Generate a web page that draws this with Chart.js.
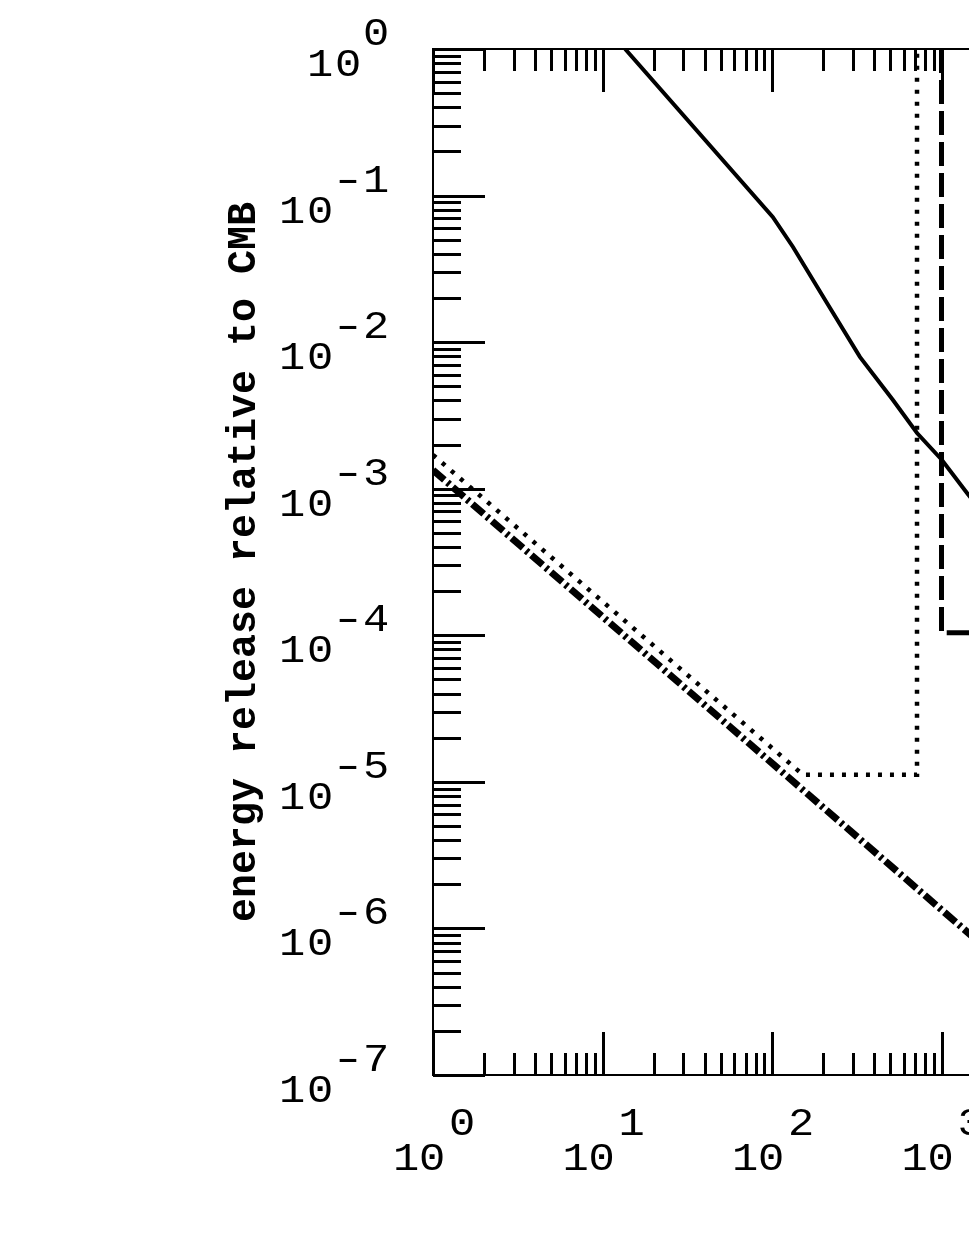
<!DOCTYPE html>
<html>
<head>
<meta charset="utf-8">
<script src="https://cdn.jsdelivr.net/npm/chart.js"></script>
<style>
  html, body { margin: 0; padding: 0; background: #fff; overflow: hidden; }
  #wrap { position: absolute; left: 0; top: 0; width: 1300px; height: 1254px; }
</style>
</head>
<body>
<div id="wrap"><canvas id="chartCanvas" width="1300" height="1254"></canvas></div>
<script>
// values (log-log)
const solidX = [13.6, 101, 133, 211, 330, 517, 717, 1006, 1414, 2000];
const solidY = [1.0, 0.0715, 0.0446, 0.0185, 0.00793, 0.00403, 0.0024, 0.00157, 0.000936, 0.00056];

const dashedX = [1000, 1000, 100000];
const dashedY = [1.0, 1.04e-4, 1.04e-4];

const dottedX = [1, 152, 717, 717];
const dottedY = [1.70e-3, 1.12e-5, 1.12e-5, 1.0];

const dashDotX = [1, 3000];
const dashDotY = [1.34e-3, 4.47e-7];

const xExponents = [0, 1, 2, 3, 4, 5];
const yExponents = [0, -1, -2, -3, -4, -5, -6, -7];
const yTitle = 'energy release relative to CMB';

function pts(xs, ys) {
    return xs.map((x, i) => ({ x: x, y: ys[i] }));
}

// stretched mono glyphs, the original font is wider than Liberation Mono
function glyph(ctx, ch, cx, base, sx) {
    ctx.save();
    ctx.translate(cx, base);
    ctx.scale(sx, 1);
    ctx.fillText(ch, 0, 0);
    ctx.restore();
}

const framePlugin = {
    id: 'frame',
    afterDraw(chart) {
        const ctx = chart.ctx;
        const a = chart.chartArea;
        const xs = chart.scales.x;
        const ys = chart.scales.y;
        ctx.save();
        ctx.strokeStyle = '#000';
        ctx.fillStyle = '#000';
        ctx.lineWidth = 2;
        ctx.strokeRect(a.left, a.top, a.right - a.left, a.bottom - a.top);

        // inner ticks
        ctx.lineWidth = 3;
        ctx.beginPath();
        const xMin = Math.min(...xExponents), xMax = Math.max(...xExponents);
        for (let e = xMin; e <= xMax; e++) {
            for (let k = 1; k <= 9; k++) {
                if (e === xMax && k > 1) break;
                const px = Math.round(xs.getPixelForValue(k * Math.pow(10, e))) + 0.5;
                const len = k === 1 ? 43 : 22;
                ctx.moveTo(px, a.top); ctx.lineTo(px, a.top + len);
                ctx.moveTo(px, a.bottom); ctx.lineTo(px, a.bottom - len);
            }
        }
        const yMin = Math.min(...yExponents), yMax = Math.max(...yExponents);
        for (let e = yMin; e <= yMax; e++) {
            for (let k = 1; k <= 9; k++) {
                if (e === yMax && k > 1) break;
                const py = Math.round(ys.getPixelForValue(k * Math.pow(10, e))) + 0.5;
                const len = k === 1 ? 52 : 28;
                ctx.moveTo(a.left, py); ctx.lineTo(a.left + len, py);
                ctx.moveTo(a.right, py); ctx.lineTo(a.right - len, py);
            }
        }
        ctx.stroke();

        // tick labels 10^n
        ctx.font = '38px "Liberation Mono", monospace';
        ctx.textAlign = 'center';
        ctx.textBaseline = 'alphabetic';
        const sx = 1.15;
        yExponents.forEach(e => {
            const py = ys.getPixelForValue(Math.pow(10, e));
            const ex = String(e).split('');
            const lastC = a.left - 57;
            const pitch = 28;
            ex.forEach((c, i) => glyph(ctx, c, lastC - (ex.length - 1 - i) * pitch, py - 4, c === '-' ? 1.6 : sx));
            const firstC = lastC - (ex.length - 1) * pitch;
            glyph(ctx, '0', firstC - pitch, py + 27, sx);
            glyph(ctx, '1', firstC - 2 * pitch, py + 27, sx);
        });
        xExponents.forEach(e => {
            const px = xs.getPixelForValue(Math.pow(10, e));
            glyph(ctx, '1', px - 27, a.bottom + 95, sx);
            glyph(ctx, '0', px - 1, a.bottom + 95, sx);
            glyph(ctx, String(e), px + 29, a.bottom + 60, sx);
        });

        // y title
        ctx.font = 'bold 40px "Liberation Mono", monospace';
        ctx.translate(255, (a.top + a.bottom) / 2);
        ctx.rotate(-Math.PI / 2);
        ctx.fillText(yTitle, 0, 0);
        ctx.restore();
    }
};

const ctx = document.getElementById('chartCanvas').getContext('2d');
new Chart(ctx, {
    type: 'line',
    data: {
        datasets: [
            { data: pts(solidX, solidY), borderColor: '#000', borderWidth: 4 },
            { data: pts(dashedX, dashedY), borderColor: '#000', borderWidth: 5, borderDash: [24, 7] },
            { data: pts(dottedX, dottedY), borderColor: '#000', borderWidth: 4.5, borderDash: [4, 8] },
            { data: pts(dashDotX, dashDotY), borderColor: '#000', borderWidth: 7, borderDash: [15, 4, 3, 4] }
        ]
    },
    options: {
        responsive: false,
        animation: false,
        elements: { point: { radius: 0 }, line: { tension: 0, fill: false } },
        plugins: { legend: { display: false }, tooltip: { enabled: false } },
        layout: { padding: { left: 433, top: 49, right: 1300 - (433 + 5 * 169.5), bottom: 1254 - 1075 } },
        scales: {
            x: { type: 'logarithmic', min: 1, max: 1e5, display: false },
            y: { type: 'logarithmic', min: 1e-7, max: 1, display: false }
        }
    },
    plugins: [framePlugin]
});
</script>
</body>
</html>
